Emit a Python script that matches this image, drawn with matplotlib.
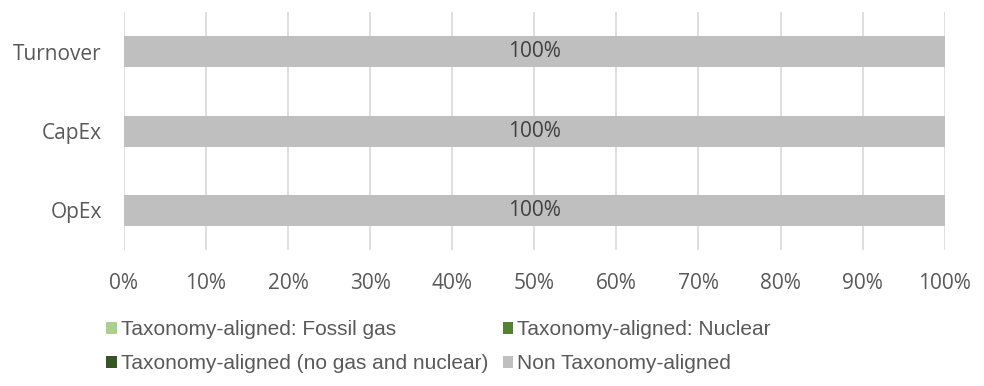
import numpy as np
import matplotlib.pyplot as plt

# Categories (bottom to top) and series shares in %
categories = ["OpEx", "CapEx", "Turnover"]
fossil_gas = [0, 0, 0]
nuclear = [0, 0, 0]
no_gas_nuclear = [0, 0, 0]
non_aligned = [100, 100, 100]
x_ticks = [0, 10, 20, 30, 40, 50, 60, 70, 80, 90, 100]

series = [
    ("Taxonomy-aligned: Fossil gas", fossil_gas, "#A9D18E"),
    ("Taxonomy-aligned: Nuclear", nuclear, "#548235"),
    ("Taxonomy-aligned (no gas and nuclear)", no_gas_nuclear, "#375623"),
    ("Non Taxonomy-aligned", non_aligned, "#BFBFBF"),
]

fig = plt.figure(figsize=(9.84, 3.86), dpi=100)
ax = fig.add_axes([0.126, 0.352, 0.834, 0.617])

y = np.arange(len(categories))
left = np.zeros(len(categories))
handles = {}
for name, vals, col in series:
    vals = np.array(vals, dtype=float)
    bars = ax.barh(y, vals, left=left, height=0.39, color=col, label=name, zorder=3)
    handles[name] = bars
    if name == "Non Taxonomy-aligned":
        for yi, l, v in zip(y, left, vals):
            if v > 0:
                ax.text(l + v / 2, yi, f"{v:.0f}%", ha="center", va="center",
                        fontsize=15, color="#404040", family="Open Sans", zorder=4)
    left += vals

ax.set_xlim(0, 100)
ax.set_ylim(-0.5, 2.5)
ax.set_xticks(x_ticks)
ax.set_xticklabels([f"{t}%" for t in x_ticks], family="Open Sans", fontsize=15, color="#595959")
ax.set_yticks(y)
ax.set_yticklabels(categories, family="Open Sans", fontsize=15, color="#595959")
ax.tick_params(axis="both", length=0)
ax.tick_params(axis="x", pad=16.5)
ax.tick_params(axis="y", pad=16)
ax.grid(axis="x", color="#D9D9D9", linewidth=1.2, zorder=0)
ax.grid(axis="y", visible=False)
for s in ax.spines.values():
    s.set_visible(False)

order = ["Taxonomy-aligned: Fossil gas", "Taxonomy-aligned (no gas and nuclear)",
         "Taxonomy-aligned: Nuclear", "Non Taxonomy-aligned"]
leg = fig.legend([handles[n] for n in order], order, ncol=2, loc="upper left",
                 bbox_to_anchor=(0.108, 0.171), frameon=False,
                 prop={"family": "Liberation Sans", "size": 15},
                 handlelength=0.5, handleheight=0.5, handletextpad=0.2,
                 columnspacing=0.7, labelspacing=0.72, borderaxespad=0, borderpad=0)
for t in leg.get_texts():
    t.set_color("#595959")

fig.savefig("out.png", dpi=100)
